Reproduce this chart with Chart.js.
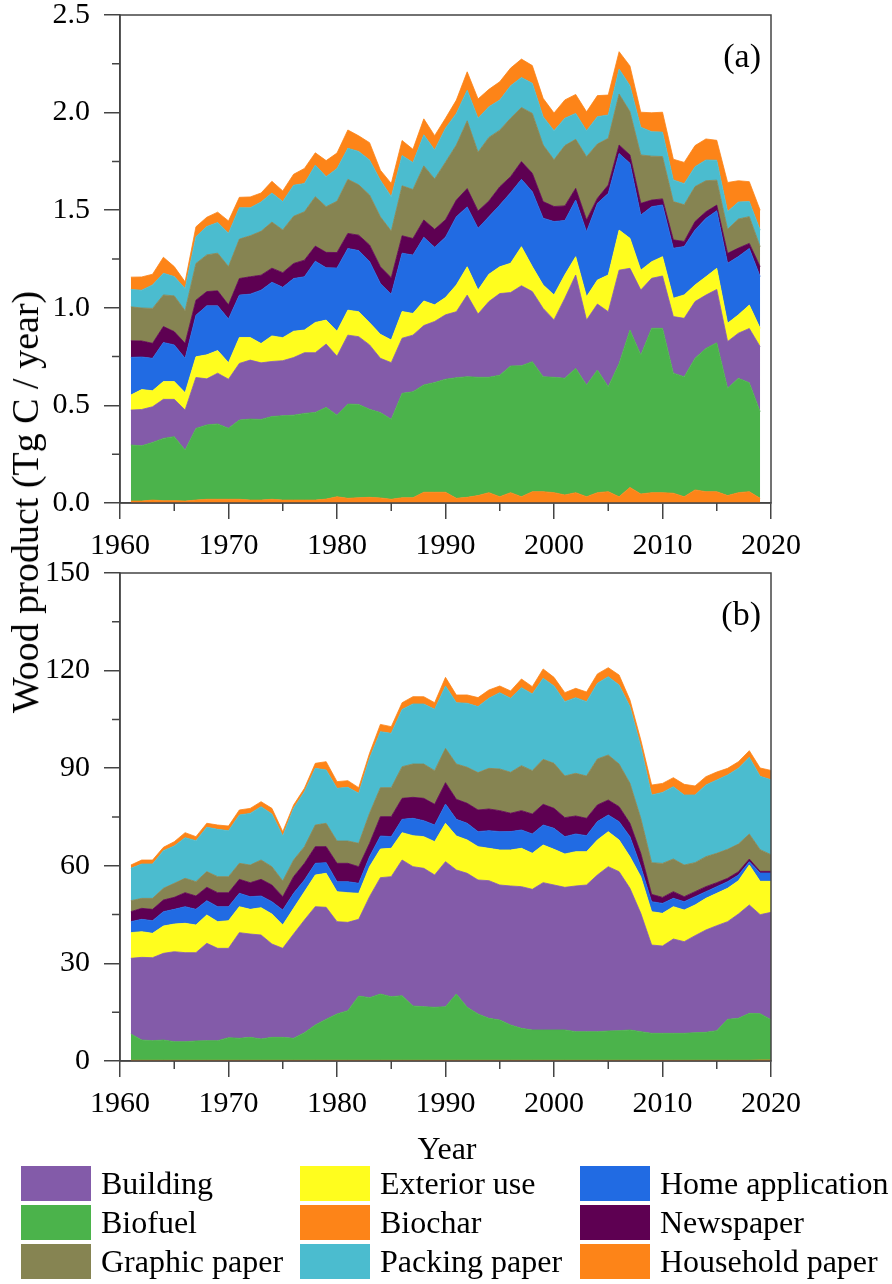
<!DOCTYPE html>
<html>
<head>
<meta charset="utf-8">
<script src="https://cdn.jsdelivr.net/npm/chart.js@4.4.1/dist/chart.umd.min.js"></script>
<style>
  body { margin: 0; background: #fff; width: 892px; height: 1284px; position: relative; overflow: hidden;
         font-family: "Liberation Serif", "Times New Roman", serif; color: #000; }
  canvas { position: absolute; left: 0; }
  #chartA { top: 0; }
  #chartB { top: 560px; }
  #ytitle { position: absolute; left: 25px; top: 502px; transform: translate(-50%, -50%) rotate(-90deg);
            font-size: 38px; white-space: nowrap; }
  #xtitle { position: absolute; left: 447px; top: 1148px; transform: translate(-50%, -50%); font-size: 32px; }
  #legend { position: absolute; left: 21px; top: 1166px; display: grid;
            grid-template-columns: 279px 280px 300px; grid-auto-rows: 39px; }
  .item { display: flex; align-items: center; height: 35px; font-size: 32px; white-space: nowrap; }
  .sw { width: 70px; height: 35px; margin-right: 10px; flex: none; }
</style>
</head>
<body>
<canvas id="chartA" width="892" height="560"></canvas>
<canvas id="chartB" width="892" height="570"></canvas>
<div id="ytitle">Wood product (Tg C / year)</div>
<div id="xtitle">Year</div>
<div id="legend"></div>
<script>
// years
const yearsA = [1961,1962,1963,1964,1965,1966,1967,1968,1969,1970,1971,1972,1973,1974,1975,1976,1977,1978,1979,1980,
  1981,1982,1983,1984,1985,1986,1987,1988,1989,1990,1991,1992,1993,1994,1995,1996,1997,1998,1999,2000,
  2001,2002,2003,2004,2005,2006,2007,2008,2009,2010,2011,2012,2013,2014,2015,2016,2017,2018,2019];
const yearsB = [1961,1962,1963,1964,1965,1966,1967,1968,1969,1970,1971,1972,1973,1974,1975,1976,1977,1978,1979,1980,
  1981,1982,1983,1984,1985,1986,1987,1988,1989,1990,1991,1992,1993,1994,1995,1996,1997,1998,1999,2000,
  2001,2002,2003,2004,2005,2006,2007,2008,2009,2010,2011,2012,2013,2014,2015,2016,2017,2018,2019,2020];

// stack order, bottom to top
const seriesNames = ['Biochar', 'Biofuel', 'Building', 'Exterior use', 'Home application',
  'Newspaper', 'Graphic paper', 'Packing paper', 'Household paper'];
const seriesColors = ['#fd8418', '#4bb34b', '#835ba9', '#fffd1e', '#216be3',
  '#5e0052', '#868452', '#4bbccf', '#fd8418'];
const legendOrder = ['Building', 'Exterior use', 'Home application', 'Biofuel', 'Biochar',
  'Newspaper', 'Graphic paper', 'Packing paper', 'Household paper'];

const xTicksMinor = [1965, 1975, 1985, 1995, 2005, 2015];
const yTicksMinorA = [0.25, 0.75, 1.25, 1.75, 2.25];
const yTicksMinorB = [15, 45, 75, 105, 135];

// (a) Tg C / year
const biocharA = [0.010,0.010,0.015,0.012,0.012,0.010,0.015,0.019,0.019,0.019,
  0.019,0.015,0.015,0.019,0.015,0.015,0.015,0.015,0.020,0.032,
  0.024,0.027,0.029,0.026,0.019,0.027,0.027,0.055,0.055,0.055,
  0.024,0.029,0.038,0.053,0.032,0.053,0.032,0.058,0.058,0.053,
  0.041,0.053,0.032,0.053,0.058,0.032,0.080,0.046,0.053,0.053,
  0.050,0.032,0.067,0.058,0.058,0.038,0.053,0.058,0.024];
const biofuelA = [0.287,0.283,0.295,0.319,0.328,0.261,0.367,0.381,0.386,0.364,
  0.406,0.415,0.413,0.424,0.432,0.435,0.444,0.449,0.470,0.418,
  0.483,0.478,0.451,0.437,0.410,0.535,0.543,0.550,0.562,0.579,
  0.618,0.618,0.606,0.591,0.623,0.649,0.671,0.666,0.589,0.591,
  0.598,0.637,0.572,0.628,0.538,0.683,0.806,0.712,0.842,0.842,
  0.615,0.615,0.675,0.734,0.763,0.550,0.586,0.558,0.444];
const buildingA = [0.179,0.186,0.183,0.200,0.191,0.205,0.261,0.236,0.260,0.251,
  0.290,0.302,0.290,0.282,0.282,0.295,0.311,0.306,0.324,0.302,
  0.353,0.347,0.330,0.278,0.290,0.282,0.290,0.304,0.313,0.330,
  0.338,0.418,0.324,0.388,0.418,0.376,0.410,0.359,0.350,0.294,
  0.410,0.478,0.333,0.338,0.384,0.478,0.316,0.333,0.256,0.268,
  0.290,0.299,0.290,0.273,0.273,0.239,0.231,0.278,0.333];
const exteriorA = [0.077,0.102,0.082,0.091,0.091,0.089,0.106,0.123,0.116,0.085,
  0.133,0.116,0.099,0.131,0.118,0.135,0.116,0.155,0.123,0.128,
  0.128,0.128,0.114,0.123,0.116,0.137,0.111,0.126,0.085,0.089,
  0.137,0.145,0.123,0.140,0.137,0.150,0.200,0.128,0.120,0.128,
  0.120,0.094,0.120,0.123,0.188,0.205,0.154,0.102,0.085,0.099,
  0.094,0.120,0.085,0.094,0.108,0.094,0.094,0.120,0.094];
const homeA = [0.193,0.167,0.166,0.200,0.188,0.176,0.213,0.251,0.229,0.224,
  0.217,0.222,0.273,0.275,0.258,0.270,0.273,0.314,0.268,0.324,
  0.316,0.313,0.313,0.261,0.234,0.299,0.299,0.326,0.295,0.309,
  0.350,0.307,0.316,0.295,0.316,0.362,0.345,0.384,0.342,0.376,
  0.278,0.290,0.333,0.393,0.418,0.393,0.384,0.282,0.282,0.265,
  0.256,0.248,0.282,0.299,0.295,0.307,0.299,0.290,0.265];
const newspaperA = [0.085,0.082,0.077,0.082,0.068,0.077,0.077,0.073,0.077,0.072,
  0.085,0.089,0.077,0.072,0.075,0.077,0.085,0.077,0.079,0.079,
  0.077,0.079,0.085,0.085,0.085,0.089,0.085,0.089,0.092,0.089,
  0.085,0.094,0.089,0.080,0.094,0.082,0.091,0.094,0.085,0.077,
  0.075,0.060,0.060,0.026,0.043,0.043,0.043,0.060,0.034,0.031,
  0.043,0.026,0.043,0.034,0.029,0.051,0.043,0.026,0.051];
const graphicA = [0.174,0.169,0.179,0.162,0.183,0.167,0.188,0.188,0.193,0.196,
  0.202,0.210,0.225,0.236,0.219,0.242,0.248,0.253,0.234,0.263,
  0.277,0.258,0.256,0.256,0.239,0.256,0.251,0.277,0.258,0.295,
  0.282,0.347,0.301,0.326,0.290,0.299,0.277,0.307,0.290,0.239,
  0.309,0.251,0.324,0.278,0.239,0.261,0.222,0.248,0.225,0.217,
  0.196,0.188,0.179,0.159,0.128,0.123,0.149,0.137,0.102];
const packingA = [0.089,0.091,0.120,0.111,0.099,0.114,0.137,0.145,0.157,0.171,
  0.161,0.143,0.150,0.149,0.145,0.159,0.145,0.162,0.154,0.167,
  0.159,0.171,0.179,0.188,0.176,0.155,0.138,0.159,0.149,0.174,
  0.162,0.157,0.174,0.157,0.154,0.166,0.154,0.154,0.145,0.149,
  0.140,0.133,0.133,0.140,0.120,0.128,0.133,0.142,0.125,0.125,
  0.111,0.108,0.102,0.106,0.102,0.091,0.087,0.077,0.085];
const householdA = [0.063,0.068,0.055,0.082,0.051,0.034,0.051,0.048,0.053,0.063,
  0.053,0.056,0.046,0.060,0.055,0.056,0.077,0.063,0.082,0.080,
  0.094,0.080,0.089,0.051,0.068,0.077,0.068,0.082,0.073,0.051,
  0.068,0.094,0.099,0.089,0.094,0.091,0.094,0.091,0.094,0.091,
  0.094,0.097,0.097,0.108,0.102,0.089,0.101,0.077,0.097,0.102,
  0.106,0.109,0.108,0.108,0.102,0.149,0.109,0.102,0.102];

// (b)
const biocharB = [0.2,0.2,0.2,0.2,0.2,0.2,0.2,0.2,0.2,0.2,
  0.2,0.2,0.2,0.2,0.2,0.2,0.2,0.2,0.2,0.2,
  0.2,0.2,0.2,0.2,0.2,0.2,0.2,0.2,0.2,0.2,
  0.2,0.2,0.2,0.2,0.2,0.2,0.2,0.2,0.2,0.2,
  0.2,0.2,0.2,0.2,0.2,0.2,0.2,0.2,0.2,0.2,
  0.2,0.2,0.2,0.2,0.2,0.2,0.2,0.2,0.3,0.3];
const biofuelB = [8.1,6.25,6.05,6.25,5.74,5.74,5.95,6.05,6.05,6.97,
  6.77,7.07,6.56,7.07,7.07,6.77,8.51,10.87,12.61,14.25,
  15.27,19.78,19.27,20.39,19.57,19.88,16.71,16.5,16.3,16.5,
  20.39,16.3,14.25,12.91,12.4,10.87,9.84,9.33,9.33,9.33,
  9.33,8.82,8.82,8.82,9.02,9.12,9.33,8.82,8.3,8.3,
  8.3,8.3,8.51,8.61,9.12,12.61,12.91,14.45,14.25,12.4];
const buildingB = [23.26,25.41,25.51,26.64,27.66,27.36,27.15,29.92,28.38,27.46,
  32.48,31.76,31.97,28.69,27.36,32.07,34.63,36.37,34.43,28.38,
  27.15,23.57,31.05,35.76,36.89,41.70,42.83,42.52,40.68,44.57,
  38.12,41.19,41.19,42.32,41.50,42.73,43.55,43.24,45.29,44.57,
  43.85,44.78,45.08,48.16,50.51,48.87,43.55,36.37,27.15,26.84,
  29.00,28.18,29.82,31.46,32.27,30.02,32.07,33.30,30.43,32.99];
const exteriorB = [7.89,7.89,7.48,8.40,8.50,9.02,8.50,8.71,8.20,8.50,
  7.99,7.58,8.40,9.22,7.17,7.89,8.71,9.73,10.45,9.22,
  9.12,7.99,9.22,8.81,8.71,8.40,9.53,9.73,10.25,11.78,
  10.45,10.25,10.25,9.94,10.76,11.07,11.78,11.07,11.58,10.96,
  10.25,10.55,10.25,10.76,10.76,9.73,9.73,11.27,10.25,10.04,
  9.94,9.73,9.43,9.73,9.94,10.25,10.25,12.30,10.25,9.53];
const homeB = [3.38,3.79,3.89,4.41,4.51,5.12,4.82,4.41,4.61,4.30,
  4.10,3.89,3.59,3.79,4.61,4.61,3.59,3.59,3.28,3.07,
  3.38,3.07,3.07,4.00,3.59,4.10,5.33,4.92,5.12,5.94,
  5.12,5.12,4.61,5.43,5.64,5.64,5.64,5.94,6.15,6.45,
  5.33,5.43,4.92,5.64,5.12,5.64,6.15,3.07,3.07,3.07,
  2.56,2.56,2.56,2.05,2.05,2.05,1.74,1.02,2.56,2.56];
const newspaperB = [3.07,3.38,3.48,3.59,3.69,4.30,4.10,4.10,4.30,4.30,
  4.30,4.30,5.12,5.12,4.10,5.12,5.12,5.12,4.92,5.64,
  5.64,5.12,4.10,5.94,6.15,6.45,6.45,6.86,6.35,6.56,
  6.15,6.15,6.66,6.66,6.45,5.64,5.94,6.15,6.35,6.15,
  5.84,5.53,5.33,5.12,4.61,4.61,4.10,4.10,2.25,1.84,
  2.05,1.54,1.54,1.54,1.23,1.02,1.02,0.82,0.51,0.51];
const graphicB = [3.38,3.07,3.38,3.59,4.30,4.41,4.41,4.82,4.92,4.92,
  4.92,5.43,5.94,5.64,4.82,5.12,5.12,6.66,7.17,6.86,
  6.86,7.17,9.22,8.91,8.91,9.73,10.25,10.55,10.35,10.55,
  10.86,11.07,11.48,12.50,12.81,12.60,13.83,13.32,13.83,13.83,
  12.81,13.11,13.01,14.14,13.83,13.11,12.30,10.76,9.73,10.45,
  10.04,9.73,8.91,9.22,9.02,8.91,8.50,7.68,6.66,5.12];
const packingB = [9.94,10.55,10.55,11.58,11.48,12.50,12.60,13.63,14.55,14.14,
  14.86,15.88,16.39,16.19,13.83,15.88,16.91,17.42,16.39,16.19,
  16.50,15.37,16.91,17.21,16.70,17.62,18.44,18.44,18.85,19.16,
  18.85,19.67,20.29,21.52,23.46,22.75,23.98,23.57,24.90,23.77,
  22.85,23.26,22.85,23.26,24.08,24.28,23.57,22.03,20.80,21.82,
  22.23,21.52,20.80,22.03,22.54,22.85,23.26,23.57,22.54,23.05];
const householdB = [1.02,1.23,1.23,1.02,1.33,1.54,1.23,1.23,1.33,1.43,
  1.54,1.54,1.54,1.74,1.33,1.02,1.02,1.54,2.56,2.05,
  2.05,1.74,1.54,2.25,2.05,2.05,2.25,2.25,2.05,2.66,
  2.36,2.56,2.77,2.56,2.05,2.25,2.66,2.25,2.87,2.66,
  2.77,2.87,2.97,2.87,2.77,3.07,2.05,2.05,3.07,2.77,
  2.77,3.28,2.77,2.56,2.46,2.05,2.05,2.05,2.56,2.87];

const FONT = '"Liberation Serif", "Times New Roman", serif';
const AXIS = '#444';

// frame, minor ticks and panel letter
const panelDecor = {
  id: 'panelDecor',
  afterDraw(chart, args, opts) {
    const { ctx, chartArea: a, scales: { x, y } } = chart;
    ctx.save();
    ctx.strokeStyle = AXIS;
    ctx.lineWidth = 1.5;
    ctx.strokeRect(a.left, a.top, a.right - a.left, a.bottom - a.top);
    ctx.beginPath();
    opts.minorX.forEach(v => {
      const px = x.getPixelForValue(v);
      ctx.moveTo(px, a.bottom); ctx.lineTo(px, a.bottom + 8);
    });
    opts.minorY.forEach(v => {
      const py = y.getPixelForValue(v);
      ctx.moveTo(a.left - 8, py); ctx.lineTo(a.left, py);
    });
    ctx.stroke();
    ctx.fillStyle = '#000';
    ctx.font = '34px ' + FONT;
    ctx.textAlign = 'right';
    ctx.textBaseline = 'alphabetic';
    ctx.fillText(opts.label, a.right - 10, a.top + 52);
    ctx.restore();
  }
};

function makePanel(id, years, series, yMax, yStep, digits, label, minorY, topPad, xHeight) {
  const datasets = series.map((vals, i) => ({
    label: seriesNames[i],
    data: years.map((yr, j) => ({ x: yr, y: vals[j] })),
    backgroundColor: seriesColors[i],
    borderColor: seriesColors[i],
    borderWidth: 0.8,
    pointRadius: 0,
    tension: 0,
    fill: i === 0 ? 'origin' : '-1'
  }));
  return new Chart(document.getElementById(id), {
    type: 'line',
    data: { datasets },
    plugins: [panelDecor],
    options: {
      responsive: false,
      animation: false,
      devicePixelRatio: 1,
      layout: { padding: { top: topPad, right: 121, left: 0, bottom: 0 } },
      plugins: {
        legend: { display: false },
        tooltip: { enabled: false },
        panelDecor: { label, minorX: xTicksMinor, minorY }
      },
      scales: {
        x: {
          type: 'linear', min: 1960, max: 2020,
          ticks: { stepSize: 10, color: '#000', font: { family: FONT, size: 30 }, padding: 9,
                   maxRotation: 0, callback: v => String(v) },
          grid: { drawOnChartArea: false, tickLength: 16, color: AXIS, lineWidth: 1.5 },
          border: { color: AXIS, width: 1.5 },
          afterFit: s => { s.height = xHeight; s.paddingLeft = 0; s.paddingRight = 0; }
        },
        y: {
          stacked: true, min: 0, max: yMax,
          ticks: { stepSize: yStep, color: '#000', font: { family: FONT, size: 30 }, padding: 14,
                   callback: v => v.toFixed(digits) },
          grid: { drawOnChartArea: false, tickLength: 16, color: AXIS, lineWidth: 1.5 },
          border: { color: AXIS, width: 1.5 },
          afterFit: s => { s.width = 120; s.paddingTop = 0; s.paddingBottom = 0; }
        }
      }
    }
  });
}

makePanel('chartA', yearsA,
  [biocharA, biofuelA, buildingA, exteriorA, homeA, newspaperA, graphicA, packingA, householdA],
  2.5, 0.5, 1, '(a)', yTicksMinorA, 15, 57);
makePanel('chartB', yearsB,
  [biocharB, biofuelB, buildingB, exteriorB, homeB, newspaperB, graphicB, packingB, householdB],
  150, 30, 0, '(b)', yTicksMinorB, 13, 69);

// legend
const legendBox = document.getElementById('legend');
legendOrder.forEach(name => {
  const item = document.createElement('div');
  item.className = 'item';
  const sw = document.createElement('span');
  sw.className = 'sw';
  sw.style.background = seriesColors[seriesNames.indexOf(name)];
  item.appendChild(sw);
  item.appendChild(document.createTextNode(name));
  legendBox.appendChild(item);
});
</script>
</body>
</html>
